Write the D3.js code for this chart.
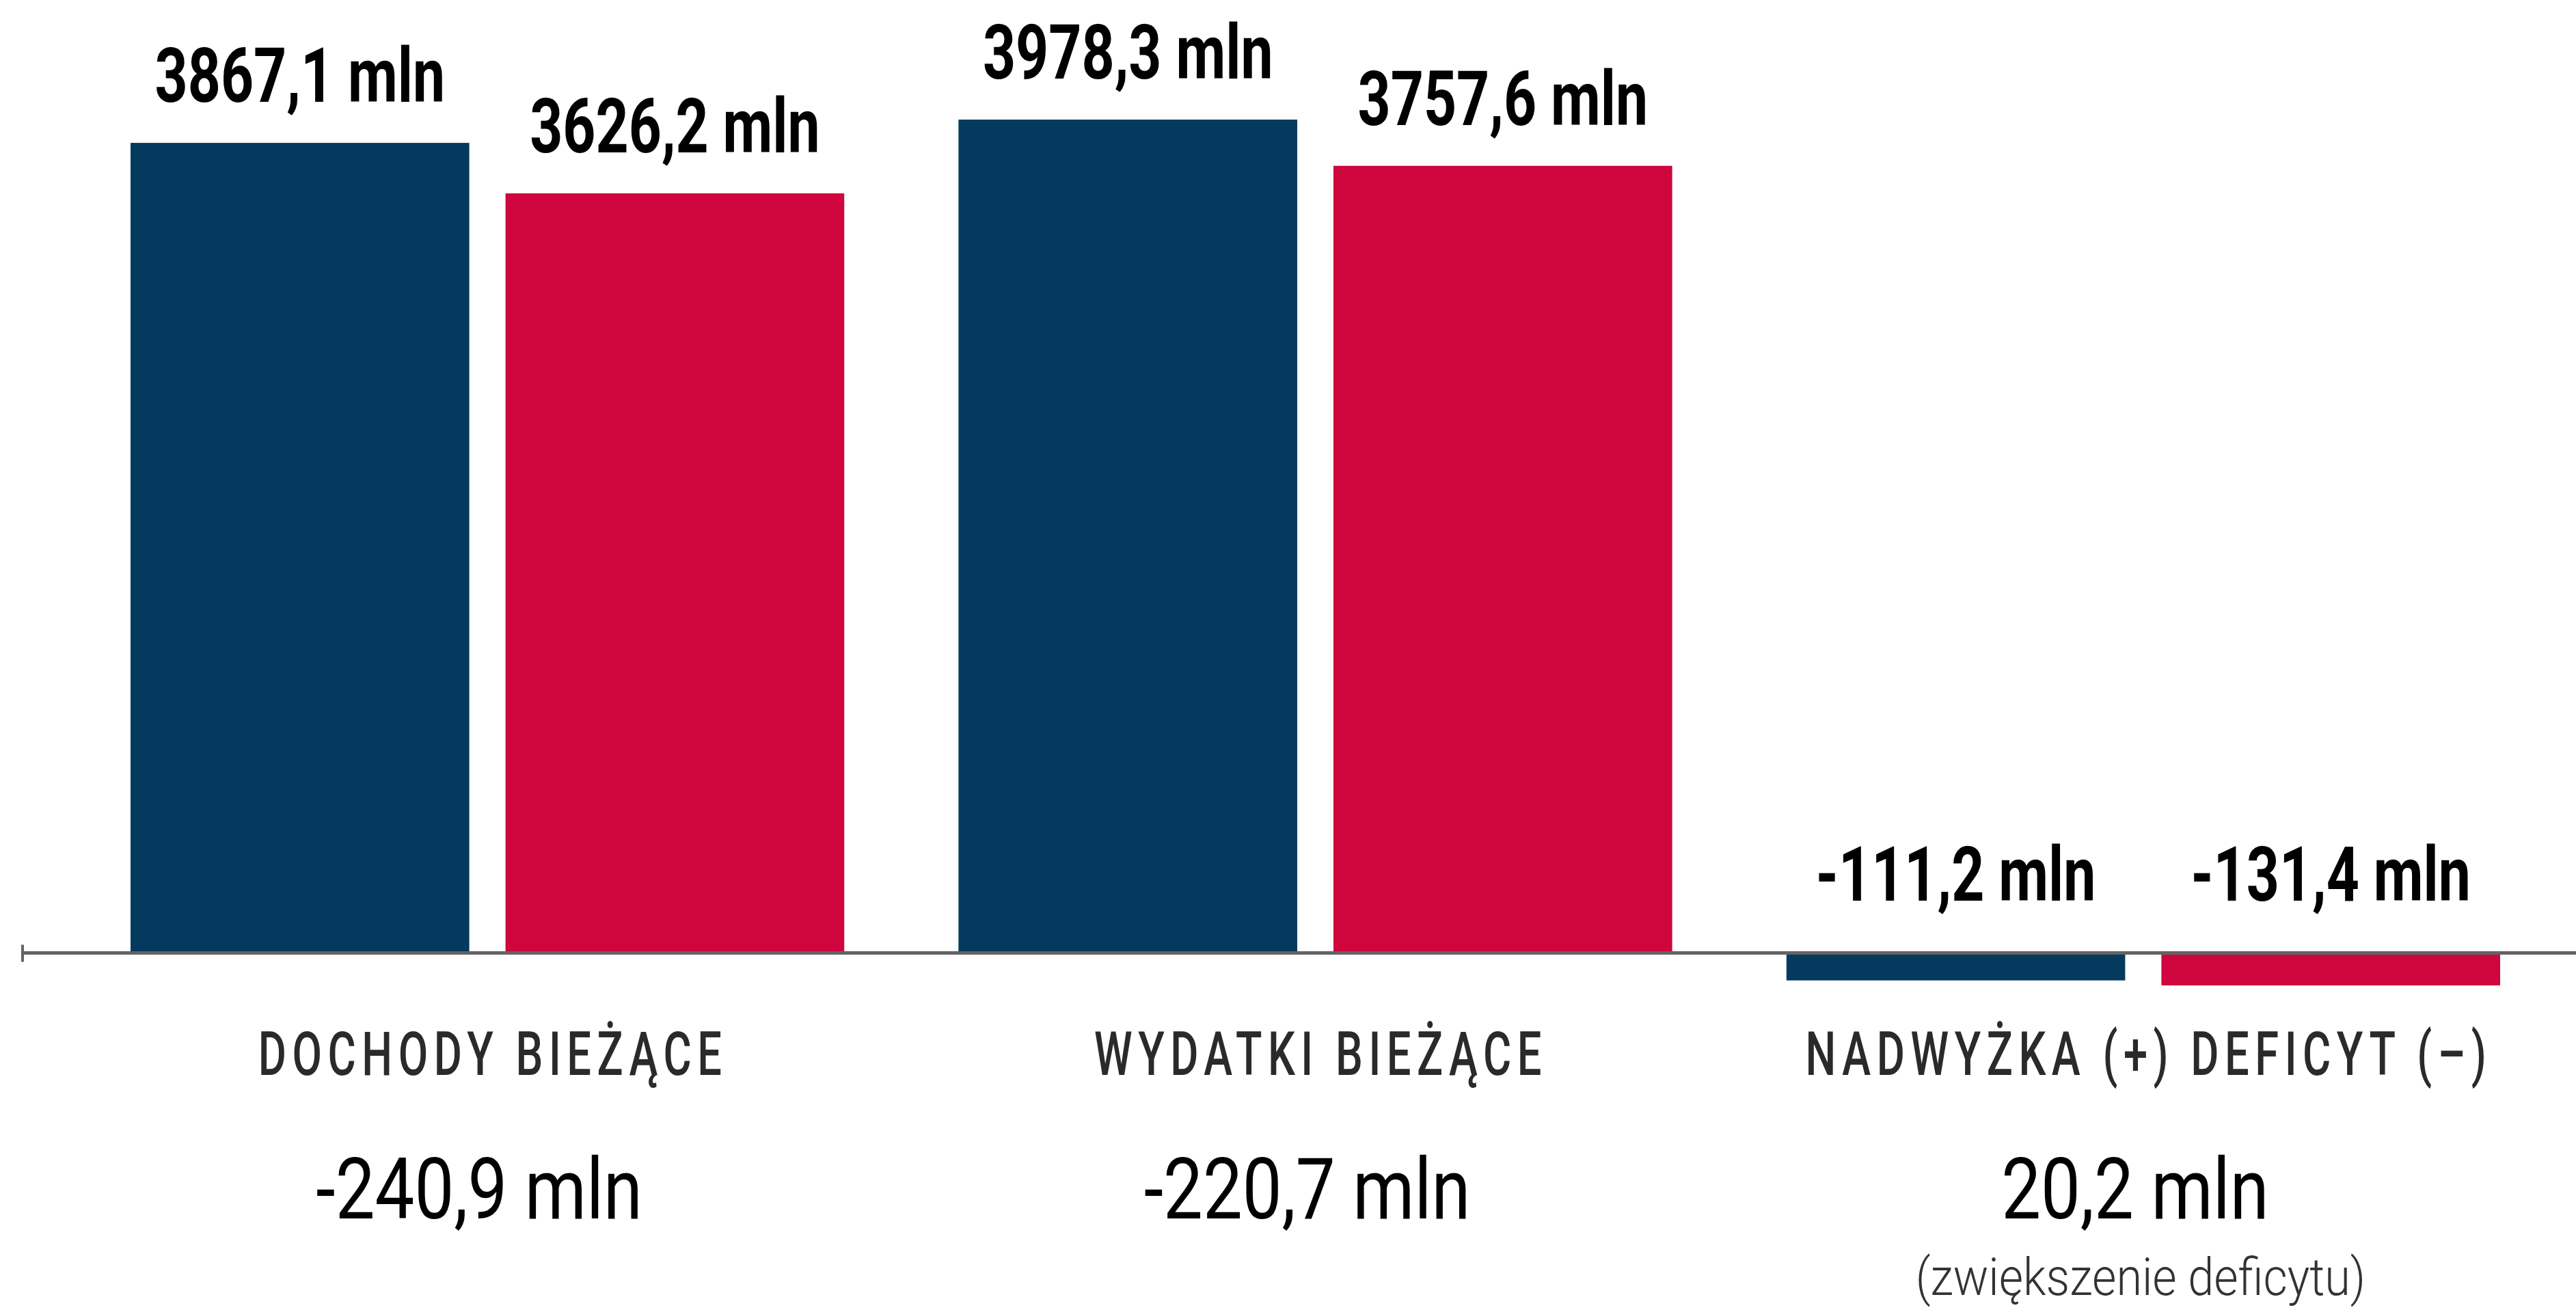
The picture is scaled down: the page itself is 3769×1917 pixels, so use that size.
<!DOCTYPE html>
<html>
<head>
<meta charset="utf-8">
<script src="https://cdn.jsdelivr.net/npm/d3@7"></script>
<style>
  html, body { margin: 0; padding: 0; background: #ffffff; }
  svg { display: block; }
</style>
</head>
<body>
<svg id="chart" width="3769" height="1917"></svg>
<script>
// ---- data ----
const categories = ["DOCHODY BIEŻĄCE", "WYDATKI BIEŻĄCE", "NADWYŻKA (+) DEFICYT (–)"];
const seriesNames = ["plan", "wykonanie"];
const seriesPlan = [3867.1, 3978.3, -111.2];
const seriesExec = [3626.2, 3757.6, -131.4];
const changeValues = [-240.9, -220.7, 20.2];
const changeNotes = ["", "", "(zwiększenie deficytu)"];

// ---- styles ----
const W = 3769, H = 1917;
const colors = { plan: "#033a5d", wykonanie: "#cf053d" };
const fontFam = "Roboto, 'Liberation Sans', 'DejaVu Sans', sans-serif";
const sxValue = 0.75, sxCat = 0.71, sxChange = 0.83, sxNote = 0.9;

const locale = d3.formatLocale({ decimal: ",", thousands: "", grouping: [3], currency: ["", ""], minus: "-" });
const fmt = locale.format(".1f");
const mln = v => fmt(v) + " mln";

const svg = d3.select("#chart");

const rows = categories.map((c, i) => ({
  category: c,
  values: [
    { key: seriesNames[0], value: seriesPlan[i] },
    { key: seriesNames[1], value: seriesExec[i] }
  ],
  change: changeValues[i],
  note: changeNotes[i]
}));

const x0 = d3.scaleBand().domain(categories).range([191, 3658]).paddingInner(0.138).paddingOuter(0);
const x1 = d3.scaleBand().domain(seriesNames).range([0, x0.bandwidth()]).paddingInner(0.0966).paddingOuter(0);

const allVals = seriesPlan.concat(seriesExec);
const yMin = d3.min(allVals), yMax = d3.max(allVals);
// negative side uses its own (enlarged) segment, as in the original
const y = d3.scaleLinear().domain([yMin, 0, yMax]).range([1442, 1394.5, 175]);

const groups = svg.append("g").selectAll("g.grp")
  .data(rows).join("g")
  .attr("class", "grp")
  .attr("transform", d => `translate(${x0(d.category)},0)`);

groups.selectAll("rect")
  .data(d => d.values).join("rect")
  .attr("x", d => x1(d.key))
  .attr("width", x1.bandwidth())
  .attr("y", d => Math.min(y(d.value), y(0)))
  .attr("height", d => Math.abs(y(d.value) - y(0)))
  .attr("fill", d => colors[d.key]);

// value labels
groups.selectAll("text.val")
  .data(d => d.values).join("text")
  .attr("class", "val")
  .attr("transform", d => {
    const cx = x1(d.key) + x1.bandwidth() / 2;
    const ty = d.value >= 0 ? y(d.value) - 60 : y(0) - 77;
    return `translate(${cx},${ty}) scale(${sxValue},1)`;
  })
  .attr("text-anchor", "middle")
  .attr("font-family", fontFam)
  .attr("font-weight", "bold")
  .attr("font-size", 112)
  .attr("fill", "#000")
  .text(d => mln(d.value));

// axis line with start tick
const axisG = svg.append("g");
axisG.append("line")
  .attr("x1", 31).attr("x2", W)
  .attr("y1", y(0)).attr("y2", y(0))
  .attr("stroke", "#636363").attr("stroke-width", 5);
axisG.append("line")
  .attr("x1", 33).attr("x2", 33)
  .attr("y1", y(0) - 12).attr("y2", y(0) + 13)
  .attr("stroke", "#636363").attr("stroke-width", 4);

// category labels
groups.append("text")
  .attr("transform", `translate(${x0.bandwidth() / 2 + 8},1573) scale(${sxCat},1)`)
  .attr("text-anchor", "middle")
  .attr("font-family", fontFam)
  .attr("font-weight", 500)
  .attr("font-size", 89)
  .attr("letter-spacing", 12)
  .attr("fill", "#2a2a2a")
  .text(d => d.category);

// change values
groups.append("text")
  .attr("transform", `translate(${x0.bandwidth() / 2 - 12},1783) scale(${sxChange},1)`)
  .attr("text-anchor", "middle")
  .attr("font-family", fontFam)
  .attr("font-size", 124)
  .attr("fill", "#000")
  .text(d => mln(d.change));

// notes
groups.append("text")
  .attr("transform", `translate(${x0.bandwidth() / 2 - 4},1895) scale(${sxNote},1)`)
  .attr("text-anchor", "middle")
  .attr("font-family", fontFam)
  .attr("font-weight", 300)
  .attr("font-size", 76)
  .attr("fill", "#333")
  .text(d => d.note);
</script>
</body>
</html>
